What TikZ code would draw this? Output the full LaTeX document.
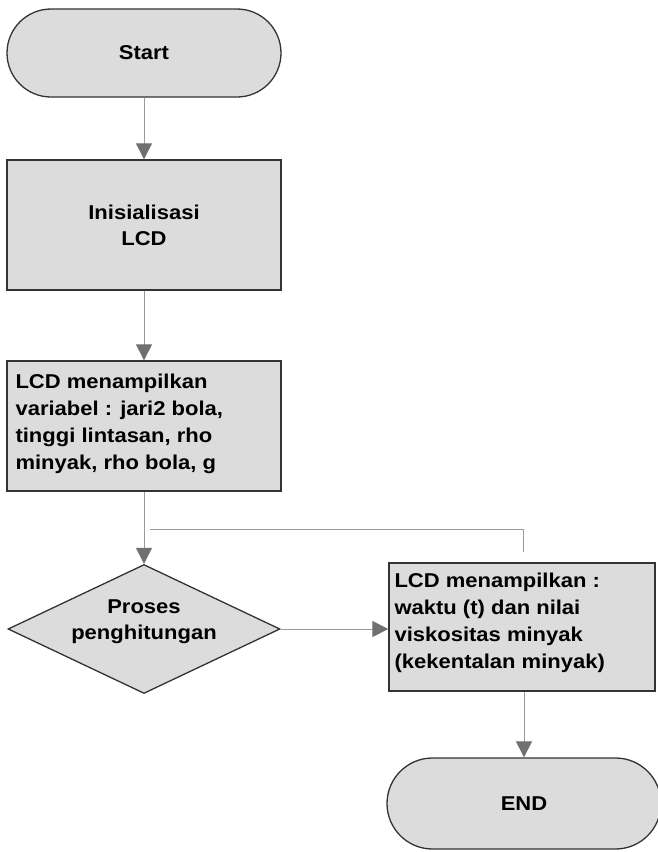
\documentclass[tikz,border=0pt]{standalone}
\usepackage{fontspec}
\newfontfamily\fcfont[FakeStretch=1.1]{Liberation Sans}
\usetikzlibrary{arrows.meta,shapes.geometric,shapes.misc}
\definecolor{boxgray}{HTML}{DCDCDC}
\definecolor{linegray}{HTML}{9A9A9A}
\definecolor{tipgray}{HTML}{707070}
\definecolor{edgegray}{HTML}{333333}
\begin{document}
\begin{tikzpicture}[x=1pt,y=-1pt,
  shapebox/.style={draw=edgegray, line width=1.3pt, fill=boxgray, inner sep=0pt},
  conn/.style={draw=linegray, line width=1pt},
  arr/.style={conn, -{Triangle[width=16pt,length=16pt,color=tipgray,fill=tipgray]}},
  txt/.style={font=\fcfont\bfseries\fontsize{20}{26}\selectfont, align=center, text=black},
  ltxt/.style={font=\fcfont\bfseries\fontsize{20}{27}\selectfont, align=left, inner sep=0pt, anchor=north west, text=black}
]
\useasboundingbox (0,0) rectangle (657,852);
% shapes
\node[shapebox, rounded rectangle, minimum width=274pt, minimum height=88pt, txt] (start) at (144,53) {Start};
\node[shapebox, rectangle, minimum width=274pt, minimum height=130pt, txt] (init) at (144,225) {Inisialisasi\\LCD};
\node[shapebox, rectangle, minimum width=274pt, minimum height=130pt] (var) at (144,426) {};
\node[ltxt] (vartxt) at ([xshift=9pt,yshift=-13pt]var.north west) {LCD menampilkan\\variabel : jari2 bola,\\tinggi lintasan, rho\\minyak, rho bola, g};
\node[shapebox, diamond, minimum width=272pt, minimum height=129pt] (proc) at (144,629) {};
\node[txt] (proctxt) at (144,622) {Proses\\penghitungan};
\node[shapebox, rectangle, minimum width=266pt, minimum height=128pt] (disp) at (522,627) {};
\node[ltxt] (disptxt) at ([xshift=6pt,yshift=-10pt]disp.north west) {LCD menampilkan :\\waktu (t) dan nilai\\viskositas minyak\\(kekentalan minyak)};
\node[shapebox, rounded rectangle, minimum width=274pt, minimum height=91pt, txt] (end) at (524,803.5) {END};
% connectors
\draw[arr] (start.south) -- (init.north);
\draw[arr] (init.south) -- (var.north);
\draw[arr] (var.south) -- (proc.north);
\draw[arr] (proc.east) -- (proc.east -| disp.west);
\draw[arr] (disp.south -| end.north) -- (end.north);
\coordinate (j1) at (150,529);
\coordinate (j2) at (523,529);
\coordinate (j3) at (523,552);
\draw[conn] (j1) -- (j2) -- (j3);
\end{tikzpicture}
\end{document}
